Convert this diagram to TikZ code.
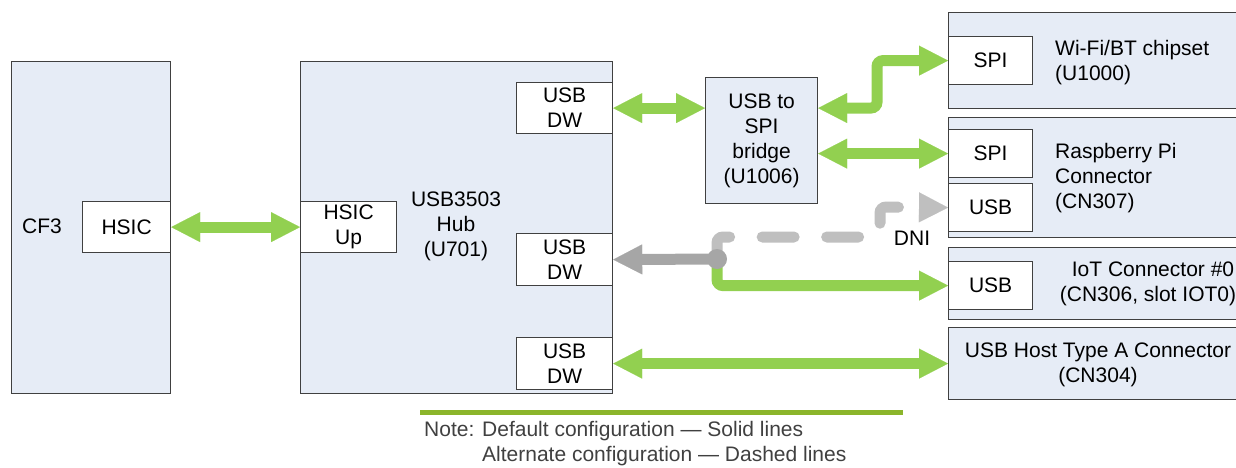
\documentclass[tikz,border=0pt]{standalone}
\usepackage{fontspec}
\setmainfont{Liberation Sans}
\usetikzlibrary{arrows.meta}
\definecolor{boxfill}{RGB}{230,236,246}
\definecolor{boxdraw}{RGB}{64,64,64}
\definecolor{lgreen}{RGB}{146,208,80}
\definecolor{dgray}{RGB}{166,166,166}
\definecolor{lgray}{RGB}{191,191,191}
\definecolor{notegreen}{RGB}{139,181,43}
\definecolor{notetext}{RGB}{64,64,64}
\tikzset{
  txt/.style={font=\fontsize{21}{25}\selectfont, align=center, inner sep=0pt},
  blk/.style={draw=boxdraw, fill=boxfill, line width=1.2pt, anchor=north west, inner sep=0pt},
  port/.style={draw=boxdraw, fill=white, line width=1.2pt, anchor=north west, inner sep=0pt, txt},
  link/.style={line width=11pt, draw=lgreen},
  both/.style={{Triangle[length=29pt,width=30pt,line width=0.1pt]}-{Triangle[length=29pt,width=30pt,line width=0.1pt]}},
  single/.style={-{Triangle[length=29pt,width=30pt,line width=0.1pt]}}
}
\begin{document}
\begin{tikzpicture}[x=1pt,y=-1pt]
\useasboundingbox (0,0) rectangle (1236,467);
\clip (0,0) rectangle (1236,467);
% left blocks
\node[blk, minimum width=159pt, minimum height=332pt] (cf3) at (11,61) {};
\node[txt] (cf3t) at (42,226) {CF3};
\node[port, minimum width=88pt, minimum height=51pt] (hsic) at (82,201) {HSIC};
\node[blk, minimum width=312pt, minimum height=332pt] (hub) at (300,61) {};
\node[port, minimum width=96pt, minimum height=51pt] (hsicup) at (300,201) {HSIC\\Up};
\node[txt] (hubt) at (456,226) {USB3503\\Hub\\(U701)};
\node[port, minimum width=96pt, minimum height=51pt] (dw1) at (516,82) {USB\\DW};
\node[port, minimum width=96pt, minimum height=52pt] (dw2) at (516,233) {USB\\DW};
\node[port, minimum width=96pt, minimum height=52pt] (dw3) at (516,337) {USB\\DW};
\node[blk, txt, minimum width=112pt, minimum height=126pt] (bridge) at (705,77) {USB to\\SPI\\bridge\\(U1006)};
% right blocks
\node[blk, minimum width=300pt, minimum height=96pt] (wifi) at (948,12) {};
\node[port, minimum width=84pt, minimum height=48pt] (wspi) at (948,36) {SPI};
\node[txt, anchor=west, align=left] (wifit) at (1055,62.5) {Wi-Fi/BT chipset\\(U1000)};
\node[blk, minimum width=300pt, minimum height=120pt] (rpi) at (948,117) {};
\node[port, minimum width=84pt, minimum height=48pt] (rspi) at (948,129) {SPI};
\node[port, minimum width=84pt, minimum height=48pt] (rusb) at (948,183) {USB};
\node[txt, anchor=west, align=left] (rpit) at (1055,178.5) {Raspberry Pi\\Connector\\(CN307)};
\node[blk, minimum width=300pt, minimum height=72pt] (iot) at (948,247) {};
\node[port, minimum width=84pt, minimum height=48pt] (iusb) at (948,261) {USB};
\node[txt] (iott) at (1148,284) {\hspace*{10pt}IoT Connector \#0\\(CN306, slot IOT0)};
\node[blk, minimum width=300pt, minimum height=72pt] (host) at (948,327) {};
\node[txt] (hostt) at (1098,364.5) {USB Host Type A Connector\\(CN304)};
\node[txt] (dni) at (912,238) {DNI};
% connectors
\draw[link, both] (hsic.east) -- (hsicup.west);
\draw[link, both] (dw1.east) -- (bridge.west |- dw1.east);
\coordinate (b1) at (877,108);
\draw[link, both, rounded corners=6pt] (bridge.east |- dw1.east) -- (b1) |- (wspi.west);
\draw[link, both] (bridge.east |- rspi.west) -- (rspi.west);
\draw[link, both] (dw3.east) -- (host.west);
\coordinate (j) at (717,259);
\coordinate (d1) at (717,237);
\coordinate (d2) at (880,207);
\draw[line width=11pt, draw=lgray, line cap=round, dash pattern=on 32pt off 32.5pt, rounded corners=6pt, single] (j) -- (d1) -| (d2) -- (rusb.west);
\draw[link, single, rounded corners=6pt] (j) |- (iusb.west);
\draw[line width=11pt, draw=dgray, single] (j) -- (dw2.east);
\fill[dgray] (j) circle (10pt);
% note
\coordinate (n1) at (420,412);
\coordinate (n2) at (903,412);
\draw[line width=5pt, notegreen] (n1) -- (n2);
\node[txt, anchor=base west, text=notetext] (note1) at (424,436.5) {Note: Default configuration — Solid lines};
\node[txt, anchor=base west, text=notetext] (note2) at (482,461.5) {Alternate configuration — Dashed lines};
\end{tikzpicture}
\end{document}
